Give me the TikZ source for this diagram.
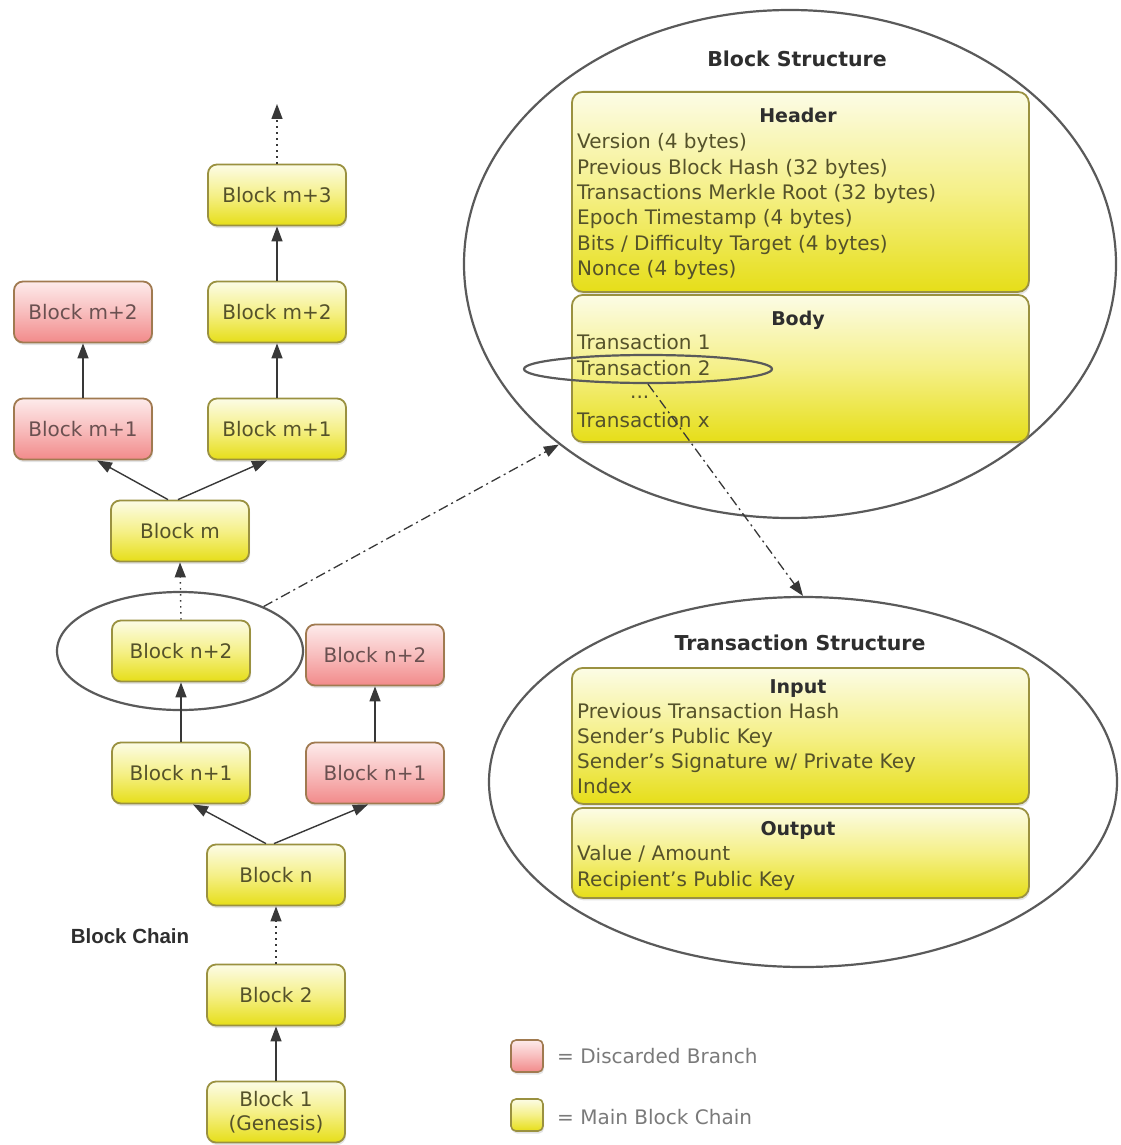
\documentclass[tikz,border=0pt]{standalone}
\usepackage{fontspec}
\setmainfont{DejaVu Sans}
\newfontfamily\labelfont{Liberation Sans}
\usetikzlibrary{shapes.geometric,arrows.meta,shadows,calc}
\definecolor{ytop}{HTML}{FCFCE6}
\definecolor{ymid}{HTML}{F5F088}
\definecolor{ybot}{HTML}{E6DE18}
\definecolor{yborder}{HTML}{9A9140}
\definecolor{ytext}{HTML}{55522A}
\definecolor{rtop}{HTML}{FDEBEB}
\definecolor{rmid}{HTML}{F8BDBD}
\definecolor{rbot}{HTML}{F28A8A}
\definecolor{rborder}{HTML}{A07A50}
\definecolor{rtext}{HTML}{6A5050}
\definecolor{linec}{HTML}{383838}
\definecolor{ellc}{HTML}{5A5A5A}
\definecolor{headc}{HTML}{2E2E2E}
\definecolor{legc}{HTML}{7A7A7A}
\begin{document}
\begin{tikzpicture}[x=1pt,y=-1pt,
  blk/.style={rectangle, rounded corners=9pt, draw=yborder, line width=1.8pt,
    top color=ytop, bottom color=ybot, middle color=ymid,
    minimum width=138pt, minimum height=61pt, inner sep=0pt,
    font=\fontsize{20}{24}\selectfont, text=ytext, align=center,
    drop shadow={opacity=0.22, shadow xshift=1pt, shadow yshift=-2.5pt}},
  rblk/.style={blk, draw=rborder, top color=rtop, bottom color=rbot, middle color=rmid, text=rtext},
  bigbox/.style={blk, rounded corners=11pt, anchor=north west, minimum width=457pt},
  ell/.style={ellipse, draw=ellc, line width=2.2pt, inner sep=0pt},
  txt/.style={anchor=base west, inner sep=0pt, font=\fontsize{20}{24}\selectfont, text=ytext},
  hd/.style={inner sep=0pt, anchor=base, font=\fontsize{19}{24}\selectfont\bfseries, text=headc},
  ttl/.style={inner sep=0pt, anchor=base, font=\fontsize{20.5}{24}\selectfont\bfseries, text=headc},
  conn/.style={draw=linec, line width=1.4pt, -{Triangle[length=15pt,width=11pt]}},
  dotconn/.style={conn, dash pattern=on 1.5pt off 4.5pt},
  ddconn/.style={conn, line width=1.3pt, dash pattern=on 10pt off 4pt on 2pt off 4pt}]
\useasboundingbox (0,0) rectangle (1120,1145);

% ---------- block chain ----------
\node[blk] (g) at (276,1112) {Block 1\\(Genesis)};
\node[blk] (b2) at (276,995) {Block 2};
\node[blk] (bn) at (276,875) {Block n};
\node[blk] (n1m) at (181,773) {Block n+1};
\node[rblk] (n1r) at (375,773) {Block n+1};
\node[blk] (n2m) at (181,651) {Block n+2};
\node[rblk] (n2r) at (375,655) {Block n+2};
\node[blk] (bm) at (180,531) {Block m};
\node[rblk] (m1r) at (83,429) {Block m+1};
\node[blk] (m1m) at (277,429) {Block m+1};
\node[rblk] (m2r) at (83,312) {Block m+2};
\node[blk] (m2m) at (277,312) {Block m+2};
\node[blk] (m3) at (277,195) {Block m+3};
\coordinate (top) at (277,104);
\node[ell, minimum width=246pt, minimum height=118pt] (e1) at (180,651) {};
\node[inner sep=0pt, font=\labelfont\fontsize{20.5}{24}\selectfont\bfseries, text=headc] (bclabel) at (130,936) {Block Chain};

% ---------- block structure ----------
\node[ell, fill=white, minimum width=652pt, minimum height=508pt] (bs) at (790,264) {};
\node[ttl] (bstitle) at (797,67) {Block Structure};
\node[bigbox, minimum height=200pt] (hdr) at (571,91) {};
\node[bigbox, minimum height=147pt] (body) at (571,294) {};
\node[hd] (hdrt) at (798,123) {Header};
\node[txt] (h1) at (577,149) {Version (4 bytes)};
\node[txt] (h2) at (577,174) {Previous Block Hash (32 bytes)};
\node[txt] (h3) at (577,199) {Transactions Merkle Root (32 bytes)};
\node[txt] (h4) at (577,224) {Epoch Timestamp (4 bytes)};
\node[txt] (h5) at (577,250) {Bits / Difficulty Target (4 bytes)};
\node[txt] (h6) at (577,275) {Nonce (4 bytes)};
\node[hd] (bodyt) at (798,325) {Body};
\node[txt] (t1) at (577,349) {Transaction 1};
\node[txt] (t2) at (577,375) {Transaction 2};
\node[txt] (tdots) at (630,398) {...};
\node[txt] (tx) at (577,427) {Transaction x};
\node[ell, minimum width=248pt, minimum height=28pt] (tx2) at (648,369) {};

% ---------- transaction structure ----------
\node[ell, fill=white, minimum width=628pt, minimum height=370pt] (txs) at (803,782) {};
\node[ttl] (txtitle) at (800,650) {Transaction Structure};
\node[bigbox, minimum height=136pt] (inp) at (571,667) {};
\node[bigbox, minimum height=90pt] (outp) at (571,807) {};
\node[hd] (inpt) at (798,693) {Input};
\node[txt] (i1) at (577,718) {Previous Transaction Hash};
\node[txt] (i2) at (577,743) {Sender's Public Key};
\node[txt] (i3) at (577,768) {Sender's Signature w/ Private Key};
\node[txt] (i4) at (577,793) {Index};
\node[hd] (outpt) at (798,835) {Output};
\node[txt] (o1) at (577,860) {Value / Amount};
\node[txt] (o2) at (577,886) {Recipient's Public Key};

% ---------- legend ----------
\node[rblk, minimum width=32pt, minimum height=32pt, rounded corners=5pt, line width=1.6pt] (legr) at (527,1056) {};
\node[blk, minimum width=32pt, minimum height=32pt, rounded corners=5pt, line width=1.6pt] (legy) at (527,1115) {};
\node[txt, text=legc] (legrt) at (557,1063) {= Discarded Branch};
\node[txt, text=legc] (legyt) at (557,1124) {= Main Block Chain};

% ---------- connectors ----------
\draw[conn] (g.north) -- (b2.south);
\draw[dotconn] (b2.north) -- (bn.south);
\draw[conn] ($(bn.north)+(-10,0)$) -- ($(n1m.south)+(12,0)$);
\draw[conn] ($(bn.north)+(-2,0)$) -- ($(n1r.south)+(-7,0)$);
\draw[conn] (n1m.north) -- (n2m.south);
\draw[conn] (n1r.north) -- (n2r.south);
\draw[dotconn] (n2m.north) -- (bm.south);
\draw[conn] ($(bm.north)+(-12,0)$) -- ($(m1r.south)+(14,0)$);
\draw[conn] ($(bm.north)+(-2,0)$) -- ($(m1m.south)+(-10,0)$);
\draw[conn] (m1r.north) -- (m2r.south);
\draw[conn] (m1m.north) -- (m2m.south);
\draw[conn] (m2m.north) -- (m3.south);
\draw[dotconn] (m3.north) -- (top);
\draw[ddconn] (e1.28) -- (bs.218);
\draw[ddconn] (tx2.south) -- (txs.north);
\end{tikzpicture}
\end{document}
